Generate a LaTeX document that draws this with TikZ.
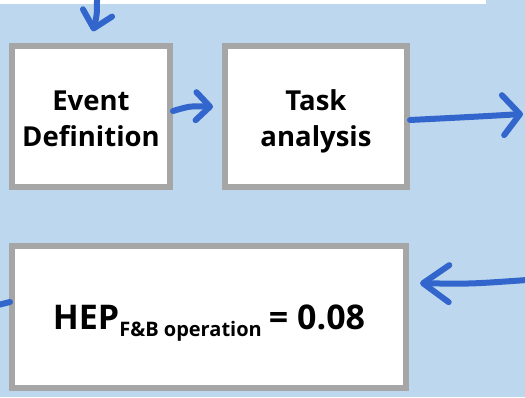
\documentclass[tikz,border=0pt]{standalone}
\usepackage{fontspec}
\setmainfont{Open Sans}
\usetikzlibrary{arrows.meta,calc}
\definecolor{bgblue}{HTML}{BDD7EE}
\definecolor{boxgray}{HTML}{A6A6A6}
\definecolor{penblue}{HTML}{3366CC}
% lower a label inside its box while keeping the box's own size
\newcommand{\lowered}[2]{\raisebox{-#1}[\height][\depth]{#2}}
\newcommand{\twolines}[2]{\lowered{5pt}{\begin{tabular}{@{}c@{}}#1\\#2\end{tabular}}}
\begin{document}
\begin{tikzpicture}[x=1pt,y=-1pt,
  stepbox/.style={draw=boxgray,line width=6pt,fill=white,align=center,
    font=\bfseries\fontsize{27.5}{36}\selectfont,inner sep=0pt},
  pen/.style={draw=penblue,line width=6pt,line cap=round,line join=round},
  barb/.style 2 args={pen,-{Straight Barb[length=#1,width=#2,line cap=round,line join=round]}}]
% page background and the white strip along the top edge
\fill[bgblue] (0,0) rectangle (525,397);
\fill[white] (0,0) rectangle (486,4);
\useasboundingbox (0,0) rectangle (525,397);

% process boxes
\node[stepbox,minimum width=158pt,minimum height=141pt] (event) at (91,116.5) {\twolines{Event}{Definition}};
\node[stepbox,minimum width=182pt,minimum height=141pt] (task) at (316,116.5) {\twolines{Task}{analysis}};
\node[stepbox,minimum width=394pt,minimum height=142pt] (hep) at (209,317)
  {\lowered{6pt}{{\fontsize{34}{40}\selectfont HEP}\raisebox{-7pt}{\fontsize{20}{24}\selectfont F\&B operation} {\fontsize{34}{40}\selectfont = 0.08}}};

% free ends of the connectors at the page edges
\coordinate (topin) at (97,-2);
\coordinate (rightout) at (523,114);
\coordinate (rightin) at (527,280);
\coordinate (leftout) at (-2,305);

% hand-drawn connectors
\draw[barb={16pt}{30pt},shorten >=12pt] (topin) .. controls (97,15) .. ([xshift=-1pt]event.north);
\draw[barb={14pt}{28pt},shorten >=9pt] ([yshift=5.5pt]event.east) .. controls (190,106) .. ([yshift=9.5pt]task.west);
\draw[barb={17pt}{40pt}] ([yshift=-3.5pt]task.east) .. controls (470,117) .. (rightout);
\draw[barb={26pt}{37pt},shorten >=11pt] (rightin) .. controls (470,284) .. ([yshift=34pt]hep.east);
\draw[pen] ([xshift=1pt,yshift=15pt]hep.west) -- (leftout);
\end{tikzpicture}
\end{document}
